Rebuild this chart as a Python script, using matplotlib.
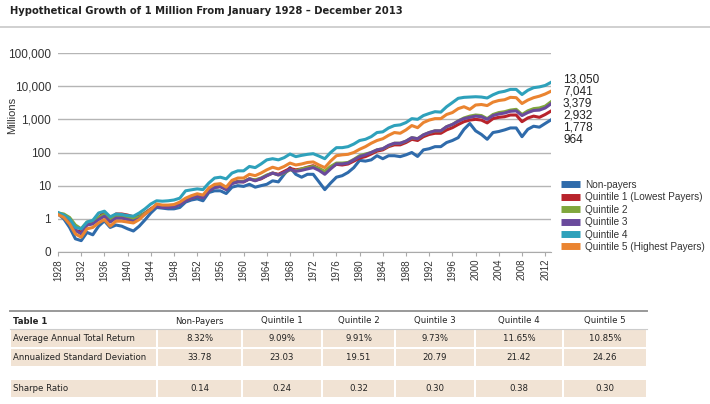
import numpy as np
import matplotlib
matplotlib.use("Agg")
import matplotlib.pyplot as plt
from matplotlib.patches import Rectangle
from matplotlib import font_manager as fm

plt.rcParams['font.family'] = ['Liberation Sans', 'DejaVu Sans']

# narrow face for title / table if one is installed
def pick_narrow():
    for fam, st in [('Liberation Sans Narrow', 'normal'), ('DejaVu Sans', 'condensed')]:
        try:
            p = fm.findfont(fm.FontProperties(family=fam, stretch=st), fallback_to_default=False)
        except Exception:
            continue
        if 'Narrow' in p or 'Condensed' in p:
            return fam, st, True
    return 'Liberation Sans', 'normal', False

NFAM, NSTRETCH, HAVE_NARROW = pick_narrow()

# ---- data (millions, log scale) ----
years = list(range(1928, 2014))

non_payers = [1.4, 1.0, 0.55, 0.25, 0.22, 0.39, 0.33, 0.6, 0.87, 0.55,
              0.65, 0.6, 0.5, 0.43, 0.6, 0.93, 1.5, 2.2, 2.1, 2.0,
              2.0, 2.2, 3.2, 3.7, 4.0, 3.5, 6.2, 7.0, 7.0, 5.8,
              9.0, 10, 9.5, 11, 9, 10, 11, 14, 13, 22,
              35, 22, 18, 22, 22, 13, 7.6, 12, 18, 20,
              25, 35, 58, 55, 60, 80, 65, 80, 80, 75,
              85, 100, 76, 120, 130, 150, 150, 200, 230, 280,
              500, 750, 450, 350, 250, 400, 430, 480, 550, 550,
              300, 500, 620, 580, 750, 964]
quintile1 = [1.4, 1.2, 0.8, 0.45, 0.4, 0.7, 0.75, 1.1, 1.6, 1.0,
             1.4, 1.4, 1.3, 1.15, 1.2, 1.5, 2.0, 2.6, 2.3, 2.3,
             2.4, 2.8, 3.6, 4.2, 4.8, 4.4, 7, 9, 9.5, 7.8,
             12, 13.5, 13, 16, 14.5, 16, 20, 24, 22, 27,
             33, 30, 32, 36, 40, 33, 26, 36, 44, 42,
             45, 55, 68, 75, 90, 110, 120, 150, 170, 170,
             200, 250, 230, 300, 350, 380, 380, 480, 560, 700,
             850, 950, 1000, 950, 780, 1050, 1150, 1200, 1350, 1350,
             850, 1100, 1250, 1150, 1400, 1778]
quintile2 = [1.5, 1.4, 1.1, 0.65, 0.5, 0.8, 0.85, 1.1, 1.35, 0.95,
             1.2, 1.2, 1.1, 1.0, 1.15, 1.5, 1.9, 2.5, 2.3, 2.3,
             2.4, 2.8, 3.6, 4.3, 5.0, 4.6, 7.2, 9, 9.5, 8,
             12, 13, 13.5, 16, 15, 17, 21, 24, 21, 24,
             30, 28, 32, 35, 38, 33, 27, 38, 48, 48,
             50, 62, 80, 90, 100, 120, 130, 160, 190, 190,
             220, 280, 260, 340, 400, 450, 450, 600, 700, 900,
             1100, 1250, 1350, 1300, 1050, 1400, 1600, 1700, 1900, 2000,
             1400, 1800, 2100, 2200, 2500, 3379]
quintile3 = [1.4, 1.2, 0.8, 0.45, 0.35, 0.65, 0.7, 0.95, 1.2, 0.8,
             1.05, 1.05, 0.95, 0.85, 1.0, 1.4, 1.9, 2.4, 2.2, 2.2,
             2.3, 2.7, 3.5, 4.2, 4.8, 4.3, 7, 8.8, 9.3, 7.6,
             11.5, 13, 13, 16, 14, 16.5, 20, 24, 21, 25,
             31, 27, 29, 32, 35, 29, 22, 32, 45, 45,
             48, 60, 75, 85, 100, 120, 130, 165, 190, 190,
             220, 280, 260, 340, 400, 450, 450, 600, 700, 880,
             1050, 1150, 1250, 1200, 1000, 1300, 1450, 1550, 1750, 1800,
             1300, 1600, 1850, 1900, 2200, 2932]
quintile4 = [1.55, 1.3, 1.0, 0.55, 0.5, 0.8, 0.9, 1.5, 1.7, 1.15,
             1.4, 1.35, 1.25, 1.2, 1.5, 2.0, 2.8, 3.5, 3.4, 3.5,
             3.7, 4.2, 7.0, 7.5, 8.0, 7.6, 12, 17, 18, 16,
             24, 28, 28, 38, 35, 45, 60, 65, 60, 70,
             90, 75, 82, 88, 92, 78, 65, 100, 140, 140,
             150, 180, 230, 250, 300, 400, 420, 550, 650, 680,
             800, 1050, 1000, 1300, 1500, 1700, 1650, 2400, 3200, 4300,
             4600, 4700, 4800, 4700, 4400, 5500, 6500, 7000, 8000, 8000,
             5600, 7500, 9000, 9500, 10500, 13050]
quintile5 = [1.35, 1.1, 0.7, 0.35, 0.28, 0.5, 0.55, 0.75, 0.95, 0.6,
             0.85, 0.85, 0.8, 0.75, 0.95, 1.4, 1.9, 2.8, 2.6, 2.6,
             2.7, 3.2, 4.2, 5.0, 5.7, 5.2, 8.5, 11, 11.5, 9,
             14.5, 17, 17, 22, 20, 24, 30, 36, 32, 38,
             48, 42, 45, 50, 52, 42, 35, 55, 80, 85,
             88, 100, 125, 150, 190, 230, 260, 330, 400, 380,
             480, 650, 560, 800, 950, 1050, 1050, 1400, 1600, 2100,
             2400, 2000, 2700, 2800, 2600, 3300, 3700, 3900, 4600, 4500,
             3000, 3800, 4500, 5000, 5800, 7041]

series_names = ['Non-payers', 'Quintile 1 (Lowest Payers)', 'Quintile 2',
                'Quintile 3', 'Quintile 4', 'Quintile 5 (Highest Payers)']
series = [non_payers, quintile1, quintile2, quintile3, quintile4, quintile5]
colors = ['#2f6bab', '#b8232b', '#80a73c', '#6a4a9c', '#2ea1bb', '#ea8430']

end_labels = ['13,050', '7,041', '3,379', '2,932', '1,778', '964']

y_ticks = [0.1, 1, 10, 100, 1000, 10000, 100000]
y_ticklabels = ['0', '1', '10', '100', '1,000', '10,000', '100,000']
x_ticks = list(range(1928, 2013, 4))

table_cols = ['Non-Payers', 'Quintile 1', 'Quintile 2', 'Quintile 3', 'Quintile 4', 'Quintile 5']
table_rows = ['Average Annual Total Return', 'Annualized Standard Deviation', 'Sharpe Ratio']
avg_return = ['8.32%', '9.09%', '9.91%', '9.73%', '11.65%', '10.85%']
std_dev = ['33.78', '23.03', '19.51', '20.79', '21.42', '24.26']
sharpe = ['0.14', '0.24', '0.32', '0.30', '0.38', '0.30']

# ---- figure ----
fig = plt.figure(figsize=(7.1, 4.04), dpi=100)
W, H = 710, 404

ax = fig.add_axes([58 / W, 1 - 252 / H, (551 - 58) / W, (252 - 53) / H])
for vals, name, c in zip(series, series_names, colors):
    ax.plot(years, vals, color=c, lw=2.2, label=name, solid_joinstyle='round')

ax.set_yscale('log')
ax.set_ylim(0.1, 100000)
ax.set_xlim(1928, 2013)
ax.set_yticks(y_ticks)
ax.set_yticklabels(y_ticklabels, fontsize=8.5, color='#333333')
ax.yaxis.set_minor_locator(matplotlib.ticker.NullLocator())
ax.set_xticks(x_ticks)
ax.set_xticklabels([str(y) for y in x_ticks], rotation=90, fontsize=7, color='#333333')
ax.tick_params(axis='y', length=0, pad=5)
ax.tick_params(axis='x', length=3, color='#aaaaaa', pad=2)
ax.grid(axis='y', color='#b5b5b5', lw=1)
for s in ['top', 'right', 'left']:
    ax.spines[s].set_visible(False)
ax.spines['bottom'].set_color('#aaaaaa')
ax.set_ylabel('Millions', fontsize=8, color='#333333')
ax.yaxis.set_label_coords((17 - 58) / 493, (252 - 115) / 199)

for i, lab in enumerate(end_labels):
    fig.text(563 / W, 1 - (80 + 12 * i) / H, lab, fontsize=8.5, color='#222222',
             va='center', ha='left')

leg = ax.legend(loc='upper left', bbox_to_anchor=(561 / W, 1 - 180 / H),
                bbox_transform=fig.transFigure, frameon=False, fontsize=7.2,
                handlelength=1.9, handleheight=0.7, labelspacing=0.24,
                handletextpad=0.5, borderaxespad=0, borderpad=0)
for h in leg.get_lines():
    h.set_linewidth(5)
    h.set_solid_capstyle('butt')
for t in leg.get_texts():
    t.set_color('#333333')

# ---- overlay for title and table (pixel coords) ----
ov = fig.add_axes([0, 0, 1, 1], zorder=-1)
ov.set_xlim(0, W)
ov.set_ylim(H, 0)
ov.axis('off')

title_fs = 8.0 if HAVE_NARROW else 7.4
tab_fs = 6.8 if HAVE_NARROW else 6.6
tkw = dict(family=NFAM, fontstretch=NSTRETCH, color='#222222', va='center')

ov.text(10, 11, 'Hypothetical Growth of 1 Million From January 1928 \u2013 December 2013',
        fontweight='bold', fontsize=title_fs, **tkw)
ov.plot([0, W], [27, 27], color='#c8c8c8', lw=1.2)

edges = [10, 157, 242, 322, 395, 475, 563, 647]
band = '#f1e3d4'
ov.plot([10, 647], [311, 311], color='#999999', lw=1.4)
ov.plot([10, 647], [329, 329], color='#cccccc', lw=0.8)
ov.text(13, 321, 'Table 1', fontweight='bold', fontsize=tab_fs, **tkw)
for j, name in enumerate(table_cols):
    cx = (edges[j + 1] + edges[j + 2]) / 2
    ov.text(cx, 321, name, fontsize=tab_fs, ha='center', **tkw)

row_bands = [(330, 347), (349, 366), (380, 397)]
row_vals = [avg_return, std_dev, sharpe]
for (y0, y1), rname, vals in zip(row_bands, table_rows, row_vals):
    for k in range(len(edges) - 1):
        ov.add_patch(Rectangle((edges[k] + 1, y0), edges[k + 1] - edges[k] - 2, y1 - y0,
                               facecolor=band, edgecolor='none'))
    ym = (y0 + y1) / 2
    ov.text(13, ym, rname, fontsize=tab_fs, **tkw)
    for j, v in enumerate(vals):
        cx = (edges[j + 1] + edges[j + 2]) / 2
        ov.text(cx, ym, v, fontsize=tab_fs, ha='center', **tkw)

fig.savefig('out.png', dpi=100)
